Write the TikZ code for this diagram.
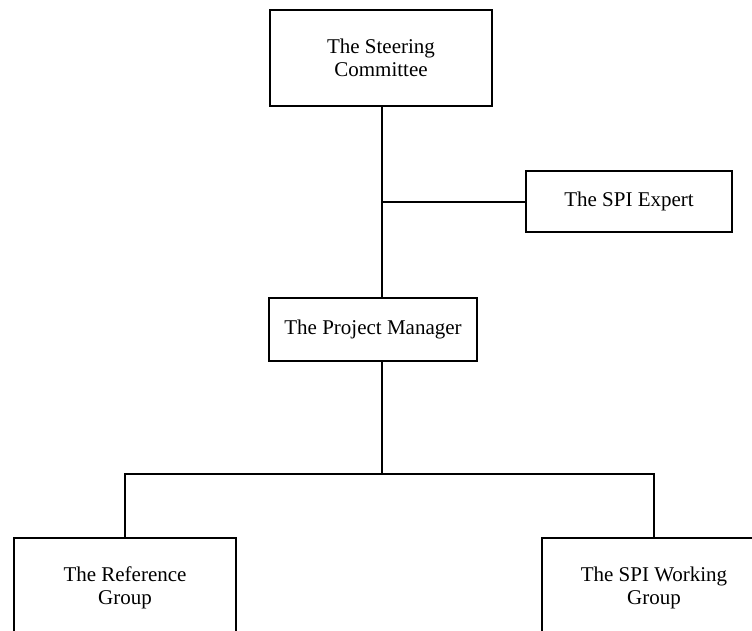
\documentclass[tikz,border=0pt]{standalone}
\usepackage{fontspec}
\setmainfont{Liberation Serif}
\begin{document}
\begin{tikzpicture}[x=1pt,y=1pt,
  box/.style={draw, line width=1.6pt, rectangle, align=center, inner sep=0pt,
    font=\fontsize{21}{23}\selectfont},
  link/.style={line width=1.6pt}]
\useasboundingbox (0,0) rectangle (752,-630);
% boxes
\node[box, minimum width=222, minimum height=96] (sc) at (381,-58) {The Steering\\Committee};
\node[box, minimum width=206, minimum height=61] (ex) at (629,-201.5) {The SPI Expert};
\node[box, minimum width=208, minimum height=63] (pm) at (373,-329.5) {The Project Manager};
\node[box, minimum width=222, minimum height=100] (rg) at (125,-588) {The Reference\\Group};
\node[box, minimum width=224, minimum height=100] (wg) at (654,-588) {The SPI Working\\Group};
% junction points
\coordinate (trunk) at (382,0);
\coordinate (tap) at (382,-202);
\coordinate (bus) at (382,-474);
% connectors
\draw[link] (sc.south -| trunk) -- (pm.north -| trunk);
\draw[link] (tap) -- (ex.west |- tap);
\draw[link] (pm.south -| trunk) -- (bus);
\draw[link] (rg.north) |- (bus) -| (wg.north);
\end{tikzpicture}
\end{document}
